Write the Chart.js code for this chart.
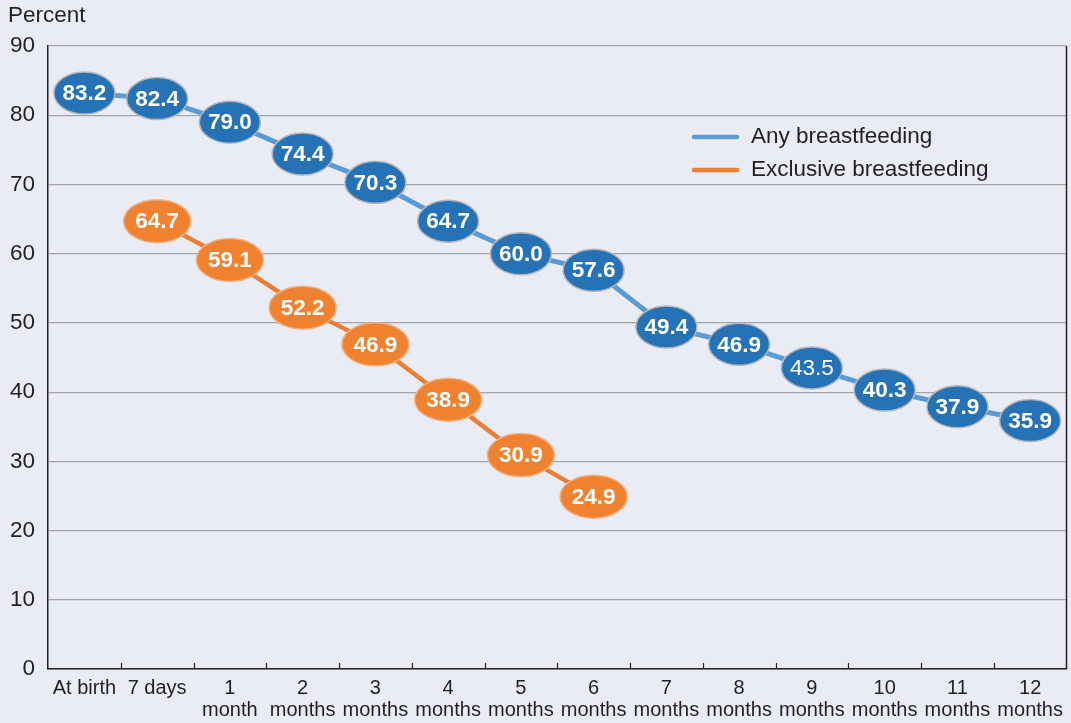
<!DOCTYPE html>
<html><head><meta charset="utf-8">
<script src="https://cdn.jsdelivr.net/npm/chart.js@4/dist/chart.umd.min.js"></script>
<style>html,body{margin:0;padding:0;background:#e9ecf5;}canvas{display:block;}</style>
</head><body>
<canvas id="c" width="1071" height="723"></canvas>
<script>
const categories = [["At birth"],["7 days"],["1","month"],["2","months"],["3","months"],["4","months"],["5","months"],["6","months"],["7","months"],["8","months"],["9","months"],["10","months"],["11","months"],["12","months"]];
const anyBreastfeeding = [83.2,82.4,79.0,74.4,70.3,64.7,60.0,57.6,49.4,46.9,43.5,40.3,37.9,35.9];
const exclusiveBreastfeeding = [null,64.7,59.1,52.2,46.9,38.9,30.9,24.9,null,null,null,null,null,null];
const yTicks = [0,10,20,30,40,50,60,70,80,90];
const seriesNames = ["Any breastfeeding","Exclusive breastfeeding"];

const FONT = "'Liberation Sans', Arial, sans-serif";
const TXT = "#231f20";
const LINE_COLORS = ["#5b9bd5","#ed7d31"];
const FILL_COLORS = ["#2672b6","#f0812f"];
const EDGE_COLORS = ["#b4b6ba","#f3b184"];
const RX = [30.5, 33.5], RY = [21, 21.5];

const decor = {
  id: 'decor',
  beforeDraw(chart){
    const {ctx} = chart;
    ctx.save();
    ctx.fillStyle = '#e9ecf5';
    ctx.fillRect(0,0,chart.width,chart.height);
    ctx.fillStyle = TXT;
    ctx.font = "22.5px " + FONT;
    ctx.textBaseline = 'middle';
    ctx.textAlign = 'left';
    ctx.fillText("Percent", 8, 16);
    ctx.restore();
  },
  afterDatasetsDraw(chart){
    const {ctx, chartArea:a} = chart;
    const xs = chart.scales.x;
    ctx.save();
    ctx.strokeStyle = '#222';
    ctx.lineWidth = 1.5;
    ctx.beginPath(); ctx.moveTo(a.right, a.top); ctx.lineTo(a.right, a.bottom); ctx.stroke();
    ctx.lineWidth = 1.2;
    for (let i = 1; i < categories.length; i++) {
      const x = Math.round((xs.getPixelForValue(i-1) + xs.getPixelForValue(i))/2) + 0.5;
      ctx.beginPath(); ctx.moveTo(x, a.bottom); ctx.lineTo(x, a.bottom - 6); ctx.stroke();
    }
    chart.data.datasets.forEach((ds, di) => {
      const meta = chart.getDatasetMeta(di);
      meta.data.forEach((pt, i) => {
        const v = ds.data[i];
        if (v === null || v === undefined) return;
        ctx.beginPath();
        ctx.ellipse(pt.x, pt.y, RX[di], RY[di], 0, 0, Math.PI*2);
        ctx.fillStyle = FILL_COLORS[di];
        ctx.fill();
        ctx.lineWidth = 1.5;
        ctx.strokeStyle = EDGE_COLORS[di];
        ctx.stroke();
        ctx.fillStyle = '#ffffff';
        const bold = !(di === 0 && i === 10);
        ctx.font = (bold ? "bold " : "") + "22.5px " + FONT;
        ctx.textAlign = 'center';
        ctx.textBaseline = 'middle';
        ctx.fillText(v.toFixed(1), pt.x, pt.y + 1);
      });
    });
    const lx = 694, lx2 = 737, tx = 751;
    [137, 170].forEach((y, k) => {
      ctx.strokeStyle = LINE_COLORS[k];
      ctx.lineWidth = 4.5;
      ctx.lineCap = 'round';
      ctx.beginPath(); ctx.moveTo(lx, y); ctx.lineTo(lx2, y); ctx.stroke();
      ctx.fillStyle = TXT;
      ctx.font = "22.5px " + FONT;
      ctx.textAlign = 'left';
      ctx.textBaseline = 'middle';
      ctx.fillText(seriesNames[k], tx, y);
    });
    ctx.restore();
  }
};

new Chart(document.getElementById('c'), {
  type: 'line',
  data: {
    labels: categories,
    datasets: [
      {label: seriesNames[0], data: anyBreastfeeding, borderColor: LINE_COLORS[0], borderWidth: 5, pointRadius: 0, tension: 0, spanGaps: false},
      {label: seriesNames[1], data: exclusiveBreastfeeding, borderColor: LINE_COLORS[1], borderWidth: 4.5, pointRadius: 0, tension: 0, spanGaps: false}
    ]
  },
  options: {
    responsive: false,
    animation: false,
    events: [],
    layout: {padding: {top: 46, right: 2, left: 0, bottom: 0}},
    plugins: {legend: {display: false}, tooltip: {enabled: false}, title: {display: false}},
    scales: {
      x: {
        type: 'category',
        offset: true,
        grid: {display: false, drawTicks: false},
        border: {display: true, color: '#222', width: 1.5},
        ticks: {color: TXT, font: {family: FONT, size: 20, lineHeight: 1.12}, padding: 8, maxRotation: 0, autoSkip: false},
        afterFit(s){ s.height = 54; }
      },
      y: {
        min: 0, max: 90,
        afterBuildTicks(s){ s.ticks = yTicks.map(v => ({value: v})); },
        grid: {color: '#a3a5a8', lineWidth: 1.2, drawTicks: false},
        border: {display: true, color: '#222', width: 1.5},
        ticks: {color: TXT, font: {family: FONT, size: 22.5}, padding: 13},
        afterFit(s){ s.width = 48; }
      }
    }
  },
  plugins: [decor]
});
</script>
</body></html>
